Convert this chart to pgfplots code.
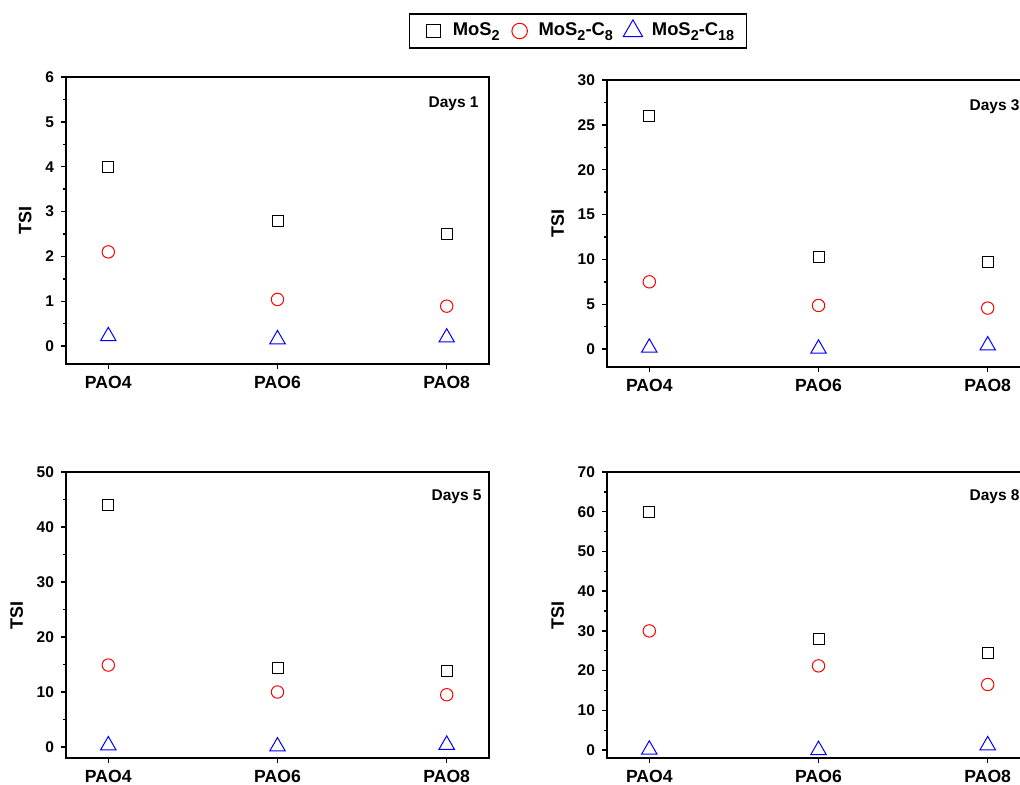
\documentclass[border=0pt]{standalone}
\usepackage{pgfplots}
\pgfplotsset{compat=1.18}
\usepackage{fontspec}
\setmainfont{Liberation Sans}
\newcommand\sub[1]{\raisebox{-2.2pt}{\fontsize{7.2}{8}\selectfont #1}}

\pgfplotsset{
 tsi/.style={
  scale only axis, width=211.5pt, anchor=south west,
  xmin=-0.25, xmax=2.25, xtick={0,1,2}, xticklabels={PAO4,PAO6,PAO8},
  tick pos=left, tick align=outside, major tick length=2.5pt, minor tick length=1.5pt,
  minor y tick num=1,
  axis line style={line width=0.8pt}, every tick/.style={black, line width=0.7pt},
  /pgf/number format/assume math mode=true,
  yticklabel style={font=\fontsize{7.75}{9}\selectfont\bfseries},
  xticklabel style={font=\fontsize{8.8}{10}\selectfont\bfseries},
  ylabel={TSI}, ylabel style={font=\fontsize{9}{10}\selectfont\bfseries},
  clip=false,
 },
 s1/.style={only marks, mark=square, mark size=2.75pt, black, mark options={line width=0.5pt, solid}},
 s2/.style={only marks, mark=o, mark size=3.1pt, red, mark options={line width=0.5pt, solid}},
 s3/.style={only marks, mark=triangle, mark size=4.45pt, blue, mark options={line width=0.5pt, solid}},
}
\tikzset{days/.style={anchor=north east, inner sep=0pt, font=\fontsize{7.75}{9}\selectfont\bfseries}}

\begin{document}
\begin{tikzpicture}
% Days 1
\begin{axis}[tsi, at={(33pt,210pt)}, height=143.5pt, ymin=-0.4, ymax=6, ytick={0,1,2,3,4,5,6},
  legend columns=3,
  legend image code/.code={\path[draw=none,fill=none] (-8pt,0pt) -- (7.5pt,0pt); \draw[#1, mark options={scale=1.25, line width=0.5pt, solid}] plot coordinates {(0pt,0pt)};},
  legend style={at={(1.2104,1.1603)}, anchor=center, draw=black, line width=0.6pt,
    font=\fontsize{9.2}{10}\selectfont\bfseries, inner xsep=4pt, inner ysep=2.5pt,
    /tikz/every even column/.append style={column sep=0pt}},
  legend cell align=left]
\addplot[s1] coordinates {(0,4.0) (1,2.8) (2,2.5)};
\addlegendentry{MoS\sub{2}}
\addplot[s2] coordinates {(0,2.1) (1,1.04) (2,0.89)};
\addlegendentry{MoS\sub{2}-C\sub{8}}
\addplot[s3] coordinates {(0,0.22) (1,0.15) (2,0.19)};
\addlegendentry{MoS\sub{2}-C\sub{18}}
\node[days, xshift=-5pt, yshift=-9.5pt] at (rel axis cs:1,1) {Days 1};
\end{axis}
% Days 3
\begin{axis}[tsi, at={(303.5pt,208.5pt)}, height=143.5pt, ymin=-2, ymax=30, ytick={0,5,10,15,20,25,30}]
\addplot[s1] coordinates {(0,26) (1,10.3) (2,9.7)};
\addplot[s2] coordinates {(0,7.5) (1,4.86) (2,4.57)};
\addplot[s3] coordinates {(0,0.15) (1,0.04) (2,0.4)};
\node[days, xshift=-5pt, yshift=-9.5pt] at (rel axis cs:1,1) {Days 3};
\end{axis}
% Days 5
\begin{axis}[tsi, at={(33pt,13pt)}, height=143pt, ymin=-2, ymax=50, ytick={0,10,20,30,40,50}]
\addplot[s1] coordinates {(0,44) (1,14.3) (2,13.9)};
\addplot[s2] coordinates {(0,14.9) (1,10.0) (2,9.5)};
\addplot[s3] coordinates {(0,0.3) (1,0.1) (2,0.4)};
\node[days, xshift=-3.5pt, yshift=-8.5pt] at (rel axis cs:1,1) {Days 5};
\end{axis}
% Days 8
\begin{axis}[tsi, at={(303.5pt,13pt)}, height=143pt, ymin=-2, ymax=70, ytick={0,10,20,30,40,50,60,70}]
\addplot[s1] coordinates {(0,60) (1,28) (2,24.4)};
\addplot[s2] coordinates {(0,30) (1,21.2) (2,16.5)};
\addplot[s3] coordinates {(0,0.1) (1,0) (2,1.2)};
\node[days, xshift=-5pt, yshift=-8.5pt] at (rel axis cs:1,1) {Days 8};
\end{axis}
\pgfresetboundingbox
\useasboundingbox (0,0) rectangle (510pt,392pt);
\end{tikzpicture}
\end{document}
